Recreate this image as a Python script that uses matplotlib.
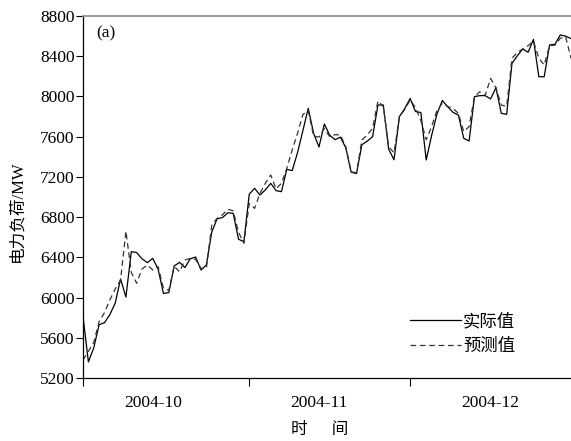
import matplotlib
matplotlib.use("Agg")
import matplotlib.pyplot as plt
import pandas as pd

dates = pd.date_range("2004-10-01", "2004-12-31", freq="D")

actual = [5810, 5360, 5500, 5730, 5750, 5830, 5945, 6184, 6005, 6456,
          6448, 6385, 6347, 6390, 6283, 6040, 6050, 6314, 6350, 6298,
          6386, 6403, 6274, 6324, 6650, 6783, 6795, 6843, 6838, 6580,
          6556, 7028, 7086, 7020, 7070, 7136, 7063, 7053, 7275, 7262,
          7440, 7660, 7882, 7633, 7497, 7726, 7615, 7570, 7595, 7490,
          7247, 7233, 7520, 7555, 7600, 7915, 7915, 7475, 7370, 7800,
          7880, 7980, 7850, 7840, 7368, 7610, 7825, 7960, 7898, 7842,
          7815, 7583, 7557, 7998, 8008, 8008, 7975, 8087, 7832, 7822,
          8330, 8405, 8472, 8439, 8568, 8196, 8196, 8512, 8518, 8611,
          8600, 8575]

forecast = [5380, 5465, 5555, 5760, 5850, 5976, 6085, 6175, 6660, 6250,
            6142, 6285, 6322, 6274, 6308, 6092, 6072, 6310, 6257, 6373,
            6390, 6380, 6290, 6290, 6720, 6788, 6823, 6878, 6862, 6650,
            6540, 6935, 6887, 7036, 7136, 7219, 7080, 7136, 7285, 7467,
            7633, 7820, 7860, 7607, 7595, 7683, 7600, 7620, 7617, 7500,
            7252, 7240, 7567, 7617, 7683, 7955, 7900, 7500, 7440, 7800,
            7870, 7965, 7890, 7760, 7570, 7700, 7860, 7932, 7900, 7882,
            7832, 7650, 7700, 7998, 8047, 8010, 8180, 8087, 7915, 7900,
            8380, 8439, 8472, 8505, 8550, 8380, 8313, 8505, 8510, 8578,
            8594, 8380]

month_ticks = ["2004-10-01", "2004-11-01", "2004-12-01"]
month_label_pos = ["2004-10-14", "2004-11-14", "2004-12-16"]
month_labels = ["2004-10", "2004-11", "2004-12"]
yticks = [5200, 5600, 6000, 6400, 6800, 7200, 7600, 8000, 8400, 8800]

serif = ["Liberation Serif", "Noto Sans CJK SC"]
cjk = ["Noto Sans CJK SC", "DejaVu Sans"]
FS = 12.5

fig = plt.figure(figsize=(5.71, 4.41), dpi=100)
ax = fig.add_axes([0.1454, 0.1429, 0.8546, 0.8208])

ax.plot(dates, actual, color="black", lw=0.9, label="实际值")
ax.plot(dates, forecast, color="#333333", lw=0.9, dashes=(4.5, 3), label="预测值")

ax.set_xlim(pd.Timestamp("2004-10-01"), pd.Timestamp("2004-12-31"))
ax.set_ylim(5200, 8800)
ax.set_yticks(yticks)
ax.set_yticklabels([str(v) for v in yticks], family=serif, fontsize=FS)

ax.set_xticks(pd.to_datetime(month_ticks))
ax.set_xticklabels([])
ax.set_xticks(pd.to_datetime(month_label_pos), minor=True)
ax.set_xticklabels(month_labels, minor=True, family=serif, fontsize=FS)
ax.tick_params(axis="x", which="minor", length=0, pad=12)
ax.tick_params(axis="x", which="major", length=6, direction="out", width=0.8)
ax.tick_params(axis="y", length=5, direction="out", width=0.8, pad=1)

ax.spines["right"].set_visible(False)
ax.spines["top"].set_color("#888888")
ax.spines["top"].set_linewidth(1.2)
for s in ("left", "bottom"):
    ax.spines[s].set_linewidth(0.9)

ax.text(0.028, 0.975, "(a)", transform=ax.transAxes, ha="left", va="top",
        family=serif, fontsize=FS)

ax.set_ylabel("电力负荷/MW", family=serif, fontsize=12)
ax.yaxis.set_label_coords(-0.118, 0.46)
ax.set_xlabel("时\u3000  间", family=cjk, fontsize=12)
ax.xaxis.set_label_coords(0.486, -0.118)

leg = ax.legend(loc="lower right", bbox_to_anchor=(0.918, 0.02), frameon=False,
                handlelength=2.9, handletextpad=0.15, labelspacing=0.4,
                prop={"family": cjk, "size": FS})

fig.savefig("out.png", dpi=100)
